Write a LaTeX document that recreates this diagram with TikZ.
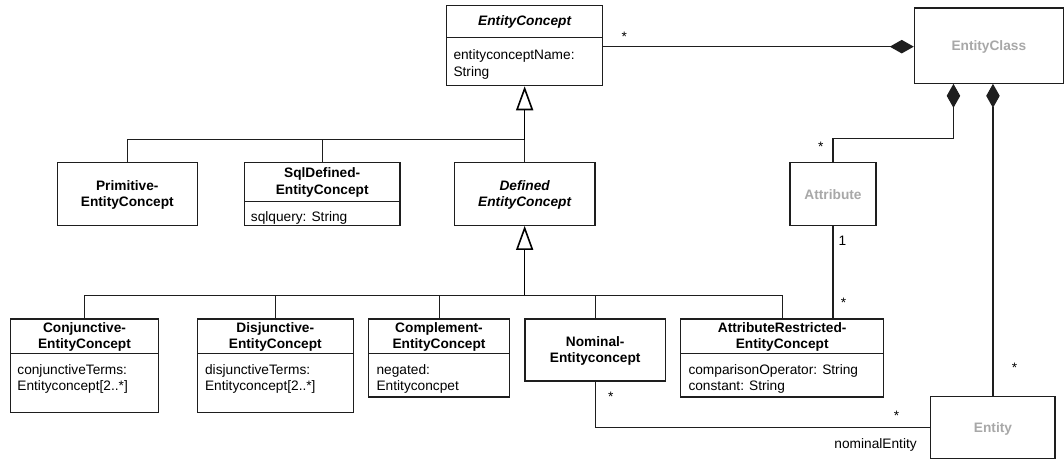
\documentclass[tikz,border=0pt]{standalone}
\usepackage{fontspec}
\setmainfont{Liberation Sans}
\usetikzlibrary{arrows.meta,fit}

\definecolor{ink}{RGB}{30,30,30}
\definecolor{lightlabel}{RGB}{168,168,168}

\tikzset{
  classbox/.style={draw=ink, line width=1.1pt, inner sep=0pt, fill=white},
  divider/.style={draw=ink, line width=1.1pt},
  classname/.style={font=\fontsize{13.7}{16.5}\selectfont\bfseries, align=center, inner sep=0pt},
  abstractname/.style={classname, font=\fontsize{13.7}{16.5}\selectfont\bfseries\itshape},
  greyname/.style={classname, text=lightlabel},
  attrs/.style={font=\fontsize{13.7}{16.5}\selectfont, align=left, anchor=north west, inner sep=0pt},
  mult/.style={font=\fontsize{13.7}{16.5}\selectfont, inner sep=0pt},
  assoc/.style={draw=ink, line width=1.1pt},
  comp/.style={assoc, -{Diamond[length=24pt, width=13.5pt]}},
  gen/.style={draw=black, line width=1.6pt, -{Triangle[open, length=24pt, width=17pt, fill=white]}},
}

% class rectangle from its two corners
\newcommand{\umlbox}[5]{\node[classbox, fit={(#2,#3) (#4,#5)}] (#1) {};}

\begin{document}
\begin{tikzpicture}[x=1pt, y=-1pt]
\useasboundingbox (0,0) rectangle (1064,459);

% ---- classes ----
\umlbox{ec}{446.5}{5.2}{602.8}{85.7}
\umlbox{ecls}{914.3}{8}{1063.3}{83.3}
\umlbox{prim}{57.3}{162.7}{197.3}{225.3}
\umlbox{sql}{244.3}{162.7}{400}{225.3}
\umlbox{def}{454.3}{162.7}{595}{225.3}
\umlbox{attr}{790}{162.7}{876}{225.7}
\umlbox{conj}{10.3}{319}{158.7}{412.3}
\umlbox{disj}{197.3}{319}{353.3}{412.3}
\umlbox{compl}{368.8}{319}{509.3}{397}
\umlbox{nom}{525}{319}{665.3}{381}
\umlbox{ar}{680.7}{319}{883.6}{397}
\umlbox{ent}{930.9}{396.7}{1055}{458.3}

% compartment dividers
\draw[divider] (446.5,37.3) -- (602.8,37.3);
\draw[divider] (244.3,201.7) -- (400,201.7);
\draw[divider] (10.3,353.7) -- (158.7,353.7);
\draw[divider] (197.3,353.7) -- (353.3,353.7);
\draw[divider] (368.8,353.7) -- (509.3,353.7);
\draw[divider] (680.7,353.7) -- (883.6,353.7);

% class names
\node[abstractname] (ec-name) at (524.65,21.5) {EntityConcept};
\node[greyname] (ecls-name) at (988.8,46.5) {EntityClass};
\node[classname] (prim-name) at (127.3,194.8) {Primitive-\\EntityConcept};
\node[classname] (sql-name) at (322.2,182.5) {SqlDefined-\\EntityConcept};
\node[abstractname] (def-name) at (524.65,194.8) {Defined\\EntityConcept};
\node[greyname] (attr-name) at (833,195) {Attribute};
\node[classname] (conj-name) at (84.5,336.8) {Conjunctive-\\EntityConcept};
\node[classname] (disj-name) at (275.3,336.8) {Disjunctive-\\EntityConcept};
\node[classname] (compl-name) at (439,336.8) {Complement-\\EntityConcept};
\node[classname] (nom-name) at (595.2,350.8) {Nominal-\\Entityconcept};
\node[classname] (ar-name) at (782.2,336.8) {AttributeRestricted-\\EntityConcept};
\node[greyname] (ent-name) at (993,428.5) {Entity};

% attributes
\node[attrs] (ec-attr) at (453.3,48.2) {\strut entityconceptName:\\String};
\node[attrs] (sql-attr) at (250.7,210.2) {\strut sqlquery: String};
\node[attrs] (conj-attr) at (17.2,362.3) {\strut conjunctiveTerms:\\Entityconcept[2..*]};
\node[attrs] (disj-attr) at (204.9,362.3) {\strut disjunctiveTerms:\\Entityconcept[2..*]};
\node[attrs] (compl-attr) at (376.4,362.3) {\strut negated:\\Entityconcpet};
\node[attrs] (ar-attr) at (688.3,362.3) {\strut comparisonOperator: String\\constant: String};

% ---- generalisation trees ----
\coordinate (j1) at (524.65,139.5);
\coordinate (j2) at (524.65,295.3);
\draw[assoc] (prim.north) |- (j1);
\draw[assoc] (sql.north) |- (j1);
\draw[assoc] (def.north) -- (j1);
\draw[gen] (j1) -- (ec.south);

\draw[assoc] (conj.north) |- (j2);
\draw[assoc] (disj.north) |- (j2);
\draw[assoc] (compl.north) |- (j2);
\draw[assoc] (nom.north) |- (j2);
\draw[assoc] (ar.north) |- (j2);
\draw[gen] (j2) -- (def.south);

% ---- compositions and associations ----
\coordinate (a1) at ([yshift=-1.2pt]ec.east);
\coordinate (ca) at ([xshift=39.7pt]ecls.south west);
\coordinate (cb) at ([xshift=78.4pt]ecls.south west);

\draw[comp] (a1) -- (a1 -| ecls.west);
\draw[comp] (attr.north) -- ++(0,-23.4) -| (ca);
\draw[comp] (ent.north) -- (ent.north |- cb);
\draw[assoc] (attr.south) -- (attr.south |- ar.north);
\draw[assoc] (nom.south) |- (ent.west);

% multiplicities and role name
\node[mult] (m-ec) at (624.3,36.3) {*};
\node[mult] (m-attr) at (820.7,147) {*};
\node[mult] (m-one) at (842.3,240.7) {1};
\node[mult] (m-ar) at (843.5,303) {*};
\node[mult] (m-ent) at (1014.4,368) {*};
\node[mult] (m-nom) at (610.7,397) {*};
\node[mult] (m-entl) at (896.5,415.7) {*};
\node[mult] (role) at (875.6,445) {nominalEntity};
\end{tikzpicture}
\end{document}
